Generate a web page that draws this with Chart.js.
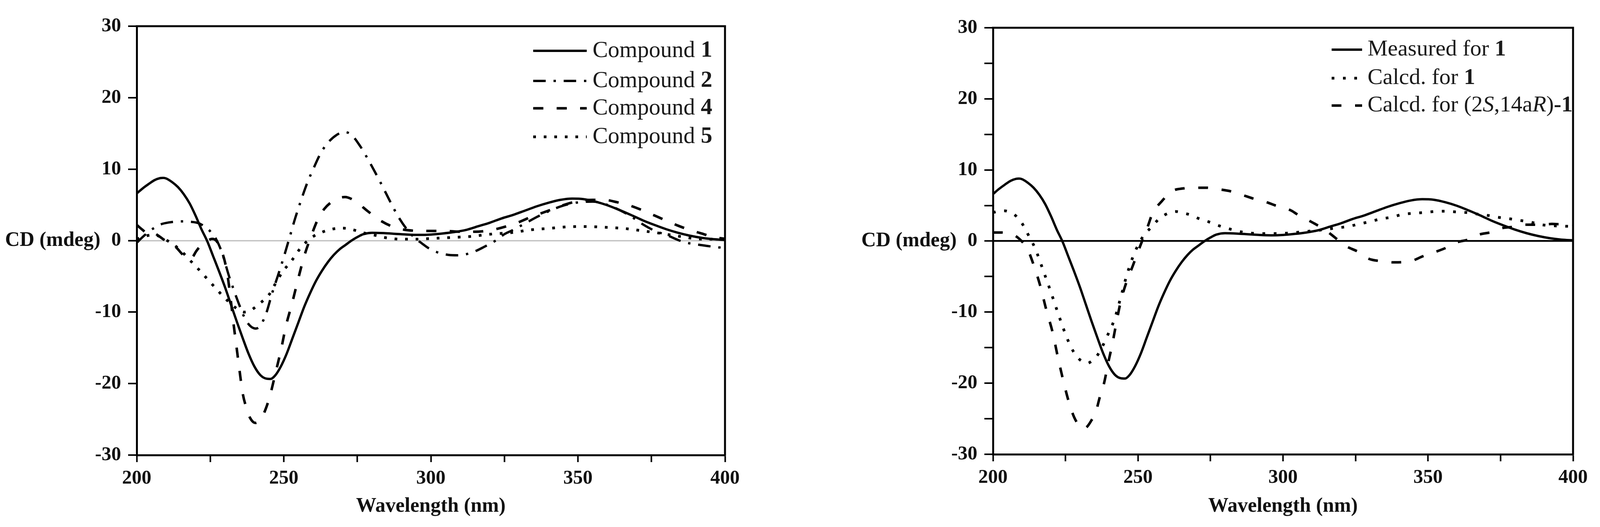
<!DOCTYPE html>
<html>
<head>
<meta charset="utf-8">
<script src="https://cdn.jsdelivr.net/npm/chart.js@4.4.1/dist/chart.umd.min.js"></script>
<style>
  html, body { margin: 0; padding: 0; background: #ffffff; }
  #wrap { position: relative; width: 4108px; height: 1348px; background: #ffffff; }
  canvas { position: absolute; top: 0; }
  #c1 { left: 0; }
  #c2 { left: 2054px; }
</style>
</head>
<body>
<div id="wrap">
  <canvas id="c1" width="2054" height="1348" style="width:2054px;height:1348px"></canvas>
  <canvas id="c2" width="2054" height="1348" style="width:2054px;height:1348px"></canvas>
</div>
<script>
// ---------------- DATA ----------------
const xTicksMajor = [200, 250, 300, 350, 400];
const yTicksMajor = [-30, -20, -10, 0, 10, 20, 30];

// Compound 1 / Measured for 1 (solid)
const wlCompound1 = [200,202,204,206,208,209,210,212,214,216,218,220,222,224,226,228,230,232,234,236,238,240,242,244,245.5,247,249,251,253,255,257,259,261,263,265,267,269,271,273,275,277,280,284,288,292,296,300,304,308,312,316,320,324,328,332,336,340,344,348,352,356,360,364,368,372,376,380,384,388,392,396,400];
const cdCompound1 = [6.6,7.3,7.9,8.45,8.75,8.78,8.7,8.2,7.5,6.5,5.2,3.5,1.6,-0.1,-2.2,-4.3,-6.5,-8.9,-11.3,-13.6,-15.8,-17.6,-18.8,-19.3,-19.35,-18.9,-17.6,-15.8,-13.6,-11.4,-9.2,-7.3,-5.6,-4.2,-3.0,-2.0,-1.2,-0.6,0.0,0.5,0.9,1.1,1.05,0.95,0.85,0.8,0.85,1.0,1.2,1.5,2.0,2.5,3.1,3.6,4.2,4.8,5.3,5.7,5.88,5.8,5.45,4.95,4.3,3.6,2.85,2.2,1.6,1.1,0.7,0.4,0.2,0.1];

// Compound 2 (dash-dot)
const wlCompound2 = [200,202,204,206,208,211,215,218,221,223,225,227,229,231.4,233,234.5,236.7,238.5,240.5,242,244,246,248,250,252,254,256,258,260,262.5,265,268,270.5,273,276,278.6,281,283.8,286,289,292,294.5,297,299,302,306,309,312,315,318,322,325,328,332,336,340,345,350,355,360,365,368,372,376,380,386,390,395,400];
const cdCompound2 = [-0.3,0.5,1.2,1.8,2.25,2.55,2.7,2.65,2.45,2.0,1.3,0.2,-1.7,-5.0,-6.9,-8.6,-10.8,-11.9,-12.3,-11.9,-10.2,-7.4,-4.9,-2.3,0.5,3.3,5.8,8.1,10.0,12.2,13.7,14.8,15.2,14.8,13.2,11.4,9.6,7.4,5.6,3.3,1.5,0.4,-0.4,-1.0,-1.6,-2.0,-2.05,-1.9,-1.5,-0.9,0.0,0.9,1.5,2.4,3.3,4.1,4.9,5.35,5.45,5.0,4.1,3.4,2.3,1.4,0.8,-0.2,-0.5,-0.8,-1.05];

// Compound 4 (dashed)
const wlCompound4 = [200,202,203.5,205,207,209,211,213.3,215.5,217.7,219,220.2,222,224,225.6,227,228.8,230,231,232,233,234,235,236,237.2,238.4,240.3,242.3,243.8,245.3,247.2,249.1,250.7,252.8,254.8,257,259.5,261.5,263.7,267,270.8,274,278.6,282.5,286.7,290,294,300,305,310,315,318.5,322,326.5,330,334,338,342,346,350,355,359,363,367,371,375,380,384,388,392,396,400];
const cdCompound4 = [2.2,1.5,1.05,1.25,0.8,0.2,-0.3,-0.9,-1.9,-2.6,-2.3,-1.5,-0.6,-0.05,0.25,0.0,-1.4,-3.0,-5.2,-8.4,-11.9,-15.1,-18.3,-21.3,-23.3,-24.7,-25.5,-24.9,-23.6,-21.7,-18.5,-15.2,-12.0,-8.8,-5.5,-2.1,0.85,2.9,4.4,5.6,6.1,5.6,4.1,2.9,2.0,1.6,1.4,1.35,1.35,1.25,1.25,1.35,1.6,2.1,2.6,3.3,3.9,4.5,5.1,5.5,5.7,5.7,5.4,5.0,4.4,3.7,2.8,2.1,1.5,1.0,0.5,0.25];

// Compound 5 (dotted)
const wlCompound5 = [200,203,206,209,212,215,218,221,224.3,227.6,230.6,234,236.5,238.5,241.8,245.1,247.3,249.7,252.5,255.4,259,262.5,266.3,269.9,273.7,277,281,284.8,290,295,300,305,310,314,318,321.5,325.4,328.9,332.8,336.3,340,343.7,347.5,351,355,358.5,362.3,366.2,369.7,373.2,376.8,380.6,384.5,388.4,393,400];
const cdCompound5 = [0.2,0.65,0.8,0.3,-0.4,-1.4,-2.7,-4.0,-5.5,-7.0,-8.3,-9.5,-10.0,-9.8,-8.8,-7.5,-5.9,-4.3,-2.9,-1.2,0.3,1.1,1.6,1.75,1.5,1.1,0.75,0.4,0.2,0.2,0.3,0.4,0.5,0.6,0.8,0.95,1.05,1.2,1.45,1.6,1.7,1.85,1.95,1.97,1.95,1.88,1.8,1.68,1.5,1.3,1.1,0.85,0.6,0.35,0.2,0.2];

// Calcd. for 1 (dotted, right panel)
const wlCalcd1 = [200,202,204,206,208,210,212,214.5,217.2,219.9,222.3,225,227,229,231,232.5,234,235.8,237.9,239.7,241.9,244,246,248,250,252,254.5,257.5,261,263,265,268.6,270.7,274.4,278.3,282,285.5,289.3,293,297,301,304.2,308,312,315,318.7,322.5,326.3,329.7,333.6,337.4,340.8,344.6,348.5,352.3,355.7,359.5,363.4,366.8,370.6,374,377.8,381.7,385,389,393,396,400];
const cdCalcd1 = [4.0,4.2,4.25,4.0,3.5,2.5,1.0,-1.0,-4.0,-7.1,-10.0,-13.1,-15.0,-16.3,-17.0,-17.2,-16.9,-16.2,-14.7,-13.1,-11.0,-8.0,-5.0,-2.5,-0.6,0.8,1.9,3.2,4.0,4.15,4.0,3.6,3.2,2.7,2.1,1.65,1.3,1.1,1.05,1.05,1.1,1.2,1.35,1.5,1.65,1.85,2.05,2.4,2.7,3.1,3.35,3.7,3.9,4.0,4.15,4.2,4.1,4.0,3.8,3.6,3.35,3.15,2.9,2.7,2.3,2.15,2.1,2.05];

// Calcd. for (2S,14aR)-1 (dashed, right panel)
const wlCalcd2S = [200,203,205.5,208,210.9,212,213.8,216.3,218.4,220.6,222.3,224.1,226.2,228,229.8,231,232.5,234,235.5,236.8,238.3,239.8,241,242.5,244,246,248.2,250,252,253.5,255,258,261.7,265.6,270,273.7,278.3,281.9,286.2,289.5,294.4,297.4,302.5,305.5,310.2,314.4,318.2,321.2,326.3,329.3,334,338.2,343.4,348.5,351.4,356.5,359.5,364.6,367.2,372.3,375.3,380.8,383.4,388.5,392.7,396,400];
const cdCalcd2S = [1.2,1.2,1.05,0.65,-0.5,-1.2,-3.1,-6.3,-9.7,-12.9,-16.2,-19.4,-22.7,-24.8,-26.0,-26.4,-26.1,-25.2,-24.0,-22.0,-20.0,-17.0,-14.8,-11.6,-8.6,-5.8,-3.5,-1.5,0.6,2.2,3.9,5.5,7.0,7.4,7.5,7.5,7.25,7.0,6.45,6.0,5.45,5.0,4.35,3.6,2.6,1.6,0.4,-0.6,-1.6,-2.45,-2.85,-3.0,-2.9,-2.1,-1.7,-0.9,-0.25,0.3,0.85,1.3,1.8,2.05,2.3,2.3,2.4,2.35,2.3];

const leftLabels  = ['Compound 1', 'Compound 2', 'Compound 4', 'Compound 5'];
const rightLabels = ['Measured for 1', 'Calcd. for 1', 'Calcd. for (2S,14aR)-1'];
const yAxisLabel = 'CD (mdeg)';
const xAxisLabel = 'Wavelength (nm)';

// ---------------- helpers ----------------
const SERIF = '"Liberation Serif", "Times New Roman", Times, serif';
function pts(xs, ys) { return xs.map((x, i) => ({ x: x, y: ys[i] })); }

// rich-text parts for legend labels: trailing number bold, S / R inside parentheses italic
function richParts(label) {
  const parts = [];
  const m = label.match(/^(.*?)(-?\d+)$/);
  let head = m ? m[1] : label;
  const tail = m ? m[2] : null;
  const pm = head.match(/^(.*)\((.*)\)$/);
  if (pm) {
    parts.push({ t: pm[1] });
    parts.push({ t: '(' });
    let buf = '';
    for (const ch of pm[2]) {
      if (ch === 'S' || ch === 'R') {
        if (buf) { parts.push({ t: buf }); buf = ''; }
        parts.push({ t: ch, i: true });
      } else buf += ch;
    }
    if (buf) parts.push({ t: buf });
    parts.push({ t: ')' });
  } else {
    parts.push({ t: head });
  }
  if (tail) parts.push({ t: tail, b: true });
  return parts;
}

const framePlugin = {
  id: 'frameAndLabels',
  afterDraw(chart, args, opts) {
    const { ctx, chartArea } = chart;
    ctx.save();
    ctx.strokeStyle = '#000';
    ctx.lineWidth = 5;
    ctx.setLineDash([]);
    ctx.beginPath();
    ctx.moveTo(chartArea.left - 2.5, chartArea.top);
    ctx.lineTo(chartArea.right, chartArea.top);
    ctx.lineTo(chartArea.right, chartArea.bottom + 2.5);
    ctx.stroke();

    const yScale = chart.scales.y;
    ctx.font = 'bold 52px ' + SERIF;
    const zeroW = ctx.measureText('0').width;
    ctx.fillStyle = '#111';
    ctx.textAlign = 'right';
    ctx.textBaseline = 'middle';
    ctx.fillText(yAxisLabel, chartArea.left - 22 - 18 - zeroW - 27, yScale.getPixelForValue(0));

    const L = opts.legend;
    chart.data.datasets.forEach((ds, i) => {
      const y = L.rows[i];
      ctx.beginPath();
      ctx.setLineDash(ds.borderDash || []);
      ctx.lineWidth = ds.borderWidth;
      ctx.strokeStyle = ds.borderColor;
      ctx.moveTo(L.x0, y);
      ctx.lineTo(L.x1, y);
      ctx.stroke();
      ctx.setLineDash([]);
      let x = L.tx;
      ctx.textAlign = 'left';
      ctx.textBaseline = 'middle';
      ctx.fillStyle = '#1a1a1a';
      richParts(ds.label).forEach(p => {
        ctx.font = (p.i ? 'italic ' : '') + (p.b ? 'bold ' : '') + L.size + 'px ' + SERIF;
        ctx.fillText(p.t, x, y);
        x += ctx.measureText(p.t).width;
      });
    });
    ctx.restore();
  }
};

function makeOptions(cfg) {
  return {
    responsive: false,
    devicePixelRatio: 1,
    animation: false,
    layout: { padding: { left: 0, top: cfg.top, right: cfg.right, bottom: 0 } },
    plugins: {
      legend: { display: false },
      tooltip: { enabled: false },
      frameAndLabels: { legend: cfg.legend }
    },
    elements: { point: { radius: 0 }, line: { cubicInterpolationMode: 'monotone' } },
    scales: {
      x: {
        type: 'linear',
        min: 200, max: 400,
        afterFit: s => { s.height = cfg.xh; },
        border: { display: true, color: '#000', width: 5 },
        grid: { drawOnChartArea: false, drawTicks: true, tickLength: 18, tickWidth: 4, tickColor: '#000', color: '#000' },
        ticks: {
          stepSize: 25, autoSkip: false, maxRotation: 0, padding: 12,
          color: '#111', font: { family: SERIF, size: 50, weight: 'bold' },
          callback: v => (xTicksMajor.includes(v) ? String(v) : '')
        },
        title: { display: true, text: xAxisLabel, color: '#111', font: { family: SERIF, size: 52, weight: 'bold' }, padding: { top: 0, bottom: 21 } }
      },
      y: {
        type: 'linear',
        min: -30, max: 30,
        afterFit: s => { s.width = cfg.yw; },
        border: { display: true, color: '#000', width: 5 },
        grid: {
          drawOnChartArea: true, drawTicks: true, tickLength: 22, tickWidth: 4, tickColor: '#000',
          color: c => (c.tick && c.tick.value === 0 ? cfg.zeroColor : 'rgba(0,0,0,0)'),
          lineWidth: c => (c.tick && c.tick.value === 0 ? cfg.zeroWidth : 0)
        },
        ticks: {
          stepSize: cfg.yStep, autoSkip: false, padding: 18,
          color: '#111', font: { family: SERIF, size: 50, weight: 'bold' },
          callback: v => (yTicksMajor.includes(v) ? String(v) : '')
        }
      }
    }
  };
}

function ds(label, xs, ys, dash, width) {
  return {
    label: label,
    data: pts(xs, ys),
    borderColor: '#000',
    backgroundColor: '#000',
    borderWidth: width,
    borderDash: dash,
    fill: false,
    pointRadius: 0
  };
}

new Chart(document.getElementById('c1'), {
  type: 'line',
  data: {
    datasets: [
      ds(leftLabels[0], wlCompound1, cdCompound1, [], 6),
      ds(leftLabels[1], wlCompound2, cdCompound2, [32, 20, 6, 20], 6),
      ds(leftLabels[2], wlCompound4, cdCompound4, [26, 34], 6.5),
      ds(leftLabels[3], wlCompound5, cdCompound5, [7, 20], 7)
    ]
  },
  options: makeOptions({
    top: 67, right: 198, xh: 184, yw: 350, yStep: 10,
    zeroColor: '#c4c4c4', zeroWidth: 3.5,
    legend: { rows: [130, 207, 277, 350], x0: 1365, x1: 1502, tx: 1517, size: 59 }
  }),
  plugins: [framePlugin]
});

new Chart(document.getElementById('c2'), {
  type: 'line',
  data: {
    datasets: [
      ds(rightLabels[0], wlCompound1, cdCompound1, [], 6),
      ds(rightLabels[1], wlCalcd1, cdCalcd1, [7, 22], 7),
      ds(rightLabels[2], wlCalcd2S, cdCalcd2S, [25, 35], 6.5)
    ]
  },
  options: makeOptions({
    top: 71, right: 81, xh: 186, yw: 488, yStep: 5,
    zeroColor: '#000', zeroWidth: 4.5,
    legend: { rows: [127, 200, 270], x0: 1355, x1: 1433, tx: 1447, size: 58 }
  }),
  plugins: [framePlugin]
});
</script>
</body>
</html>
